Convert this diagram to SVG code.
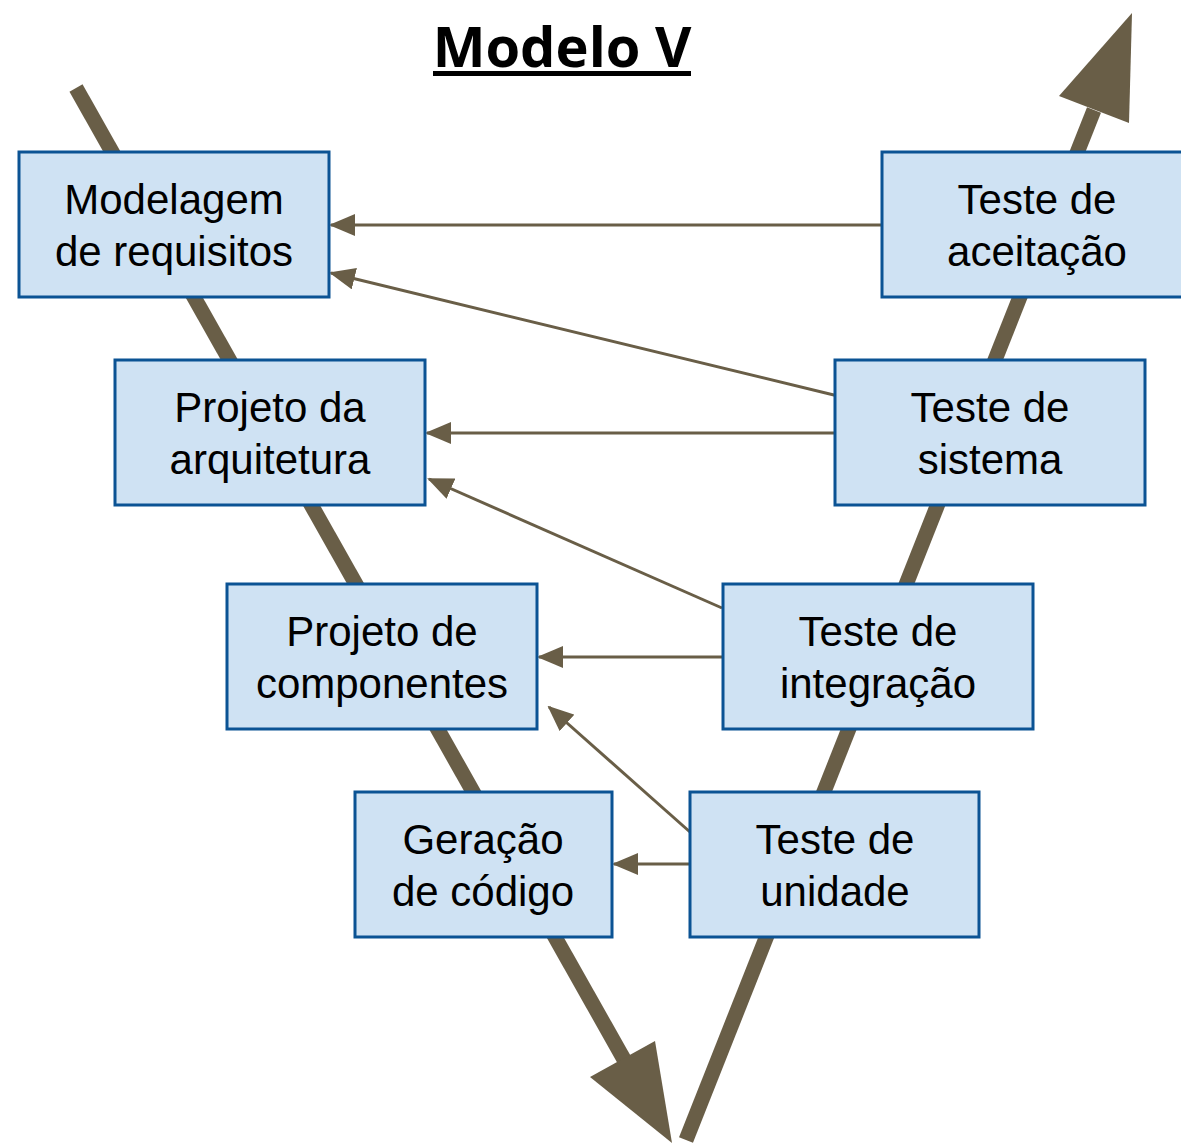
<svg xmlns="http://www.w3.org/2000/svg" width="1181" height="1145" viewBox="0 0 1181 1145">
<style>
.box rect{fill:#cfe2f3;stroke:#0b5394;stroke-width:3}
.box text{font-family:"Liberation Sans",Arial,sans-serif;font-size:42px;fill:#000;text-anchor:middle}
.arm{stroke:#695e47;stroke-width:15;fill:none}
.head{fill:#695e47}
.conn line{stroke:#695e47;stroke-width:3;marker-end:url(#ah)}
</style>
<defs>
<marker id="ah" markerUnits="userSpaceOnUse" markerWidth="26" markerHeight="22" refX="24" refY="11" orient="auto">
<path d="M0,0 L26,11 L0,22 Z" fill="#695e47"/>
</marker>
</defs>
<rect width="1181" height="1145" fill="#fff"/>
<g id="title">
<text x="562" y="67" font-family="'Open Sans',sans-serif" font-weight="bold" font-size="56" text-anchor="middle">Modelo V</text>
<rect x="433" y="71" width="258" height="5" fill="#000"/>
</g>
<g id="v-shape">
<line class="arm" x1="76" y1="88" x2="630" y2="1070"/>
<polygon class="head" points="672,1143 590,1077 655,1041"/>
<line class="arm" x1="686" y1="1140" x2="1094" y2="110"/>
<polygon class="head" points="1132,13 1059,96 1129,123"/>
</g>
<g id="connectors" class="conn">
<line x1="882" y1="225" x2="331" y2="225"/>
<line x1="838" y1="396" x2="331" y2="273"/>
<line x1="835" y1="433" x2="427" y2="433"/>
<line x1="722" y1="608" x2="429" y2="479"/>
<line x1="722" y1="657" x2="539" y2="657"/>
<line x1="690" y1="832" x2="549" y2="707"/>
<line x1="690" y1="864" x2="614" y2="864"/>
</g>
<g id="modelagem" class="box"><rect x="19" y="152" width="310" height="145"/><text x="174" y="214">Modelagem</text><text x="174" y="266">de requisitos</text></g>
<g id="arquitetura" class="box"><rect x="115" y="360" width="310" height="145"/><text x="270" y="422">Projeto da</text><text x="270" y="474">arquitetura</text></g>
<g id="componentes" class="box"><rect x="227" y="584" width="310" height="145"/><text x="382" y="646">Projeto de</text><text x="382" y="698">componentes</text></g>
<g id="codigo" class="box"><rect x="355" y="792" width="257" height="145"/><text x="483" y="854">Geração</text><text x="483" y="906">de código</text></g>
<g id="aceitacao" class="box"><rect x="882" y="152" width="310" height="145"/><text x="1037" y="214">Teste de</text><text x="1037" y="266">aceitação</text></g>
<g id="sistema" class="box"><rect x="835" y="360" width="310" height="145"/><text x="990" y="422">Teste de</text><text x="990" y="474">sistema</text></g>
<g id="integracao" class="box"><rect x="723" y="584" width="310" height="145"/><text x="878" y="646">Teste de</text><text x="878" y="698">integração</text></g>
<g id="unidade" class="box"><rect x="690" y="792" width="289" height="145"/><text x="835" y="854">Teste de</text><text x="835" y="906">unidade</text></g>
</svg>
